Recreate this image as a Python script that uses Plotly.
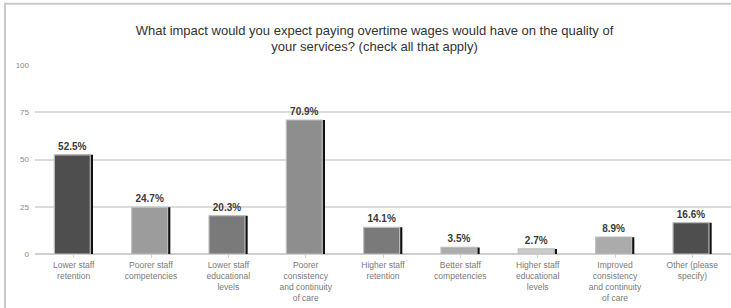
import plotly.graph_objects as go

categories = [
    "Lower staff<br>retention",
    "Poorer staff<br>competencies",
    "Lower staff<br>educational<br>levels",
    "Poorer<br>consistency<br>and continuity<br>of care",
    "Higher staff<br>retention",
    "Better staff<br>competencies",
    "Higher staff<br>educational<br>levels",
    "Improved<br>consistency<br>and continuity<br>of care",
    "Other (please<br>specify)",
]
values = [52.5, 24.7, 20.3, 70.9, 14.1, 3.5, 2.7, 8.9, 16.6]
bar_colors = ["#4e4e4e", "#9c9c9c", "#7a7a7a", "#8e8e8e", "#7a7a7a",
              "#ababab", "#cbcbcb", "#ababab", "#4e4e4e"]
y_ticks = [0, 25, 50, 75, 100]

title = ("What impact would you expect paying overtime wages would have on the quality of<br>"
         "your services? (check all that apply)")

xs = list(range(len(categories)))
FONT = "Liberation Sans"

fig = go.Figure()
# shadow bars
fig.add_trace(go.Bar(
    x=xs, y=values, width=0.47, offset=-0.22,
    marker=dict(color="#111111", line=dict(width=0)),
    hoverinfo="skip", showlegend=False,
))
# main bars
fig.add_trace(go.Bar(
    x=xs, y=values, width=0.465, offset=-0.25,
    marker=dict(color=bar_colors, line=dict(color="#bdbdbd", width=1.2)),
    texttemplate="<b>%{y:.1f}%</b>", textposition="outside", cliponaxis=False,
    textfont=dict(family=FONT, size=10, color="#3a3a3a"),
    showlegend=False,
))

W, H = 731, 308
ml, mr, mt, mb = 35, 0, 64.5, 54
pw = W - ml - mr
ph = H - mt - mb

def px_x(p):
    return (p - ml) / pw

def px_y(p):
    return (H - mb - p) / ph

fig.add_shape(type="rect", xref="paper", yref="paper",
              x0=px_x(5), x1=px_x(740), y0=px_y(320), y1=px_y(3),
              line=dict(color="#c9c9c9", width=2), fillcolor="rgba(0,0,0,0)",
              layer="below")

fig.update_layout(
    width=W, height=H,
    margin=dict(l=ml, r=mr, t=mt, b=mb, pad=0),
    paper_bgcolor="white", plot_bgcolor="white",
    barmode="overlay", bargap=0.5,
    font=dict(family=FONT, color="#333333"),
    title=dict(text=title, xref="container", yref="container",
               x=374.5 / W, xanchor="center", y=1 - 34.5 / H, yanchor="middle",
               font=dict(family=FONT, size=13, color="#333333")),
)
fig.update_xaxes(
    tickmode="array", tickvals=xs, ticktext=categories,
    range=[-0.5, len(categories) - 0.5],
    tickfont=dict(family=FONT, size=8.5, color="#7a7a7a"),
    showgrid=False, zeroline=False, showline=False,
    ticks="outside", tickson="boundaries", ticklen=3, tickcolor="#d0d0d0",
    fixedrange=True,
)
fig.update_yaxes(
    range=[0, 100], tickmode="array", tickvals=y_ticks,
    tickfont=dict(family=FONT, size=8, color="#8a8a8a"),
    showgrid=True, gridcolor="#dcdcdc", gridwidth=1.5,
    zeroline=True, zerolinecolor="#cfcfcf", zerolinewidth=1.5,
    ticklabelstandoff=5, showline=False,
)

fig.write_html("out.html", post_script="document.body.style.margin='0';",
               config={"displayModeBar": False})
